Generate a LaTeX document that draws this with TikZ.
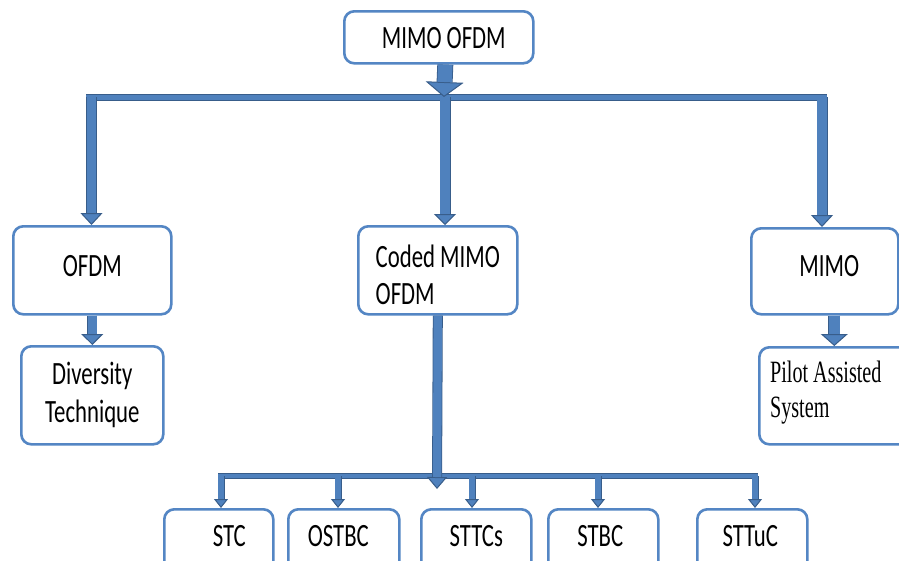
\documentclass[tikz,border=0pt]{standalone}
\usepackage{fontspec}
\setmainfont{Carlito}[FakeStretch=0.70]
\newfontfamily\timesf{Liberation Serif}[FakeStretch=0.65]
\usetikzlibrary{arrows.meta}
\definecolor{arrblue}{RGB}{79,129,189}
\definecolor{arrdark}{RGB}{56,93,138}
\definecolor{boxblue}{RGB}{84,134,196}
\begin{document}
\begin{tikzpicture}[x=1pt,y=-1pt,
  box/.style={draw=boxblue, line width=2.6pt, rounded corners=10pt, fill=white,
    inner sep=0pt, anchor=north west, font=\fontsize{32.5}{38}\selectfont},
  lowbox/.style={box, minimum width=#1, text height=37pt, text depth=30pt},
  barr/.style n args={3}{draw=arrdark, line width=#1,
    -{Triangle[width=#2,length=#3,fill=arrblue,line width=1pt]},
    postaction={draw=arrblue, line width=#1-1.6pt, -, shorten >=#3}},
  hbar/.style={draw=arrblue, line width=#1,
    preaction={draw=arrdark, line width=#1+1.2pt}}]
\useasboundingbox (0,0) rectangle (899,560);
\fill[white] (0,0) rectangle (899,560);

% nodes
\node[box, minimum width=189pt, text height=37pt, text depth=15pt] (top) at (343,10) {\hspace*{10pt}MIMO OFDM};
\node[box, minimum width=158pt, text height=50pt, text depth=38pt] (ofdm) at (12,225) {OFDM};
\node[box, minimum width=142pt, minimum height=98pt, align=center] (div) at (20,345) {Diversity\\Technique};
\node[box, minimum width=159pt, minimum height=88pt, align=left] (coded) at (357,225) {\rule{0pt}{31pt}Coded MIMO\\[-1pt]OFDM};
\node[box, minimum width=147pt, text height=48pt, text depth=38pt] (mimo) at (750,227) {\hspace*{9pt}MIMO};
\node[box, minimum width=160pt, minimum height=97pt, align=left,
  font=\timesf\fontsize{31}{35}\selectfont] (pilot) at (758,346) {Pilot Assisted\hspace*{27pt}\\System\rule[-14pt]{0pt}{1pt}};

\node[lowbox=109pt] (stc) at (163,508) {\hspace*{21pt}STC};
\node[lowbox=111pt] (ostbc) at (287,508) {OSTBC\hspace*{11pt}};
\node[lowbox=110pt] (sttcs) at (420,508) {STTCs};
\node[lowbox=110pt] (stbc) at (547,508) {STBC\hspace*{6pt}};
\node[lowbox=110pt] (sttuc) at (696,508) {STTuC\hspace*{4pt}};

% bar coordinates
\coordinate (bL) at (86,97.5);
\coordinate (bR) at (827,97.5);
\coordinate (t1) at (444,97);
\coordinate (l1) at (91.5,97);
\coordinate (c1) at (445,97);
\coordinate (r1) at (822,97);
\coordinate (cb) at (437,489);
\coordinate (dL) at (218,476);
\coordinate (dR) at (758,476);
\coordinate (s1) at (221,476);
\coordinate (s2) at (338,476);
\coordinate (s3) at (472,476);
\coordinate (s4) at (598,476);
\coordinate (s5) at (755,476);

% bars
\draw[hbar=5pt] (bL) -- (bR);
\draw[hbar=4pt] (dL) -- (dR);

% arrows
\draw[barr={16pt}{38pt}{15pt}] ([xshift=6.5pt]top.south) -- (t1);
\draw[barr={11pt}{22pt}{12pt}] (l1) -- (l1 |- ofdm.north);
\draw[barr={11pt}{22pt}{11pt}] (c1) -- (c1 |- coded.north);
\draw[barr={11pt}{22pt}{12pt}] (r1) -- (r1 |- mimo.north);
\draw[barr={10pt}{22pt}{11pt}] (ofdm.south) -- (div.north);
\draw[barr={12pt}{27pt}{12pt}] ([xshift=9.5pt]mimo.south) -- ([xshift=9.5pt]mimo.south |- pilot.north);
\draw[barr={10pt}{20pt}{12pt}] (coded.south) -- (cb);
\foreach \s/\b in {s1/stc, s2/ostbc, s3/sttcs, s4/stbc, s5/sttuc}
  \draw[barr={7pt}{14pt}{9pt}] (\s) -- (\s |- \b.north);
\end{tikzpicture}
\end{document}
